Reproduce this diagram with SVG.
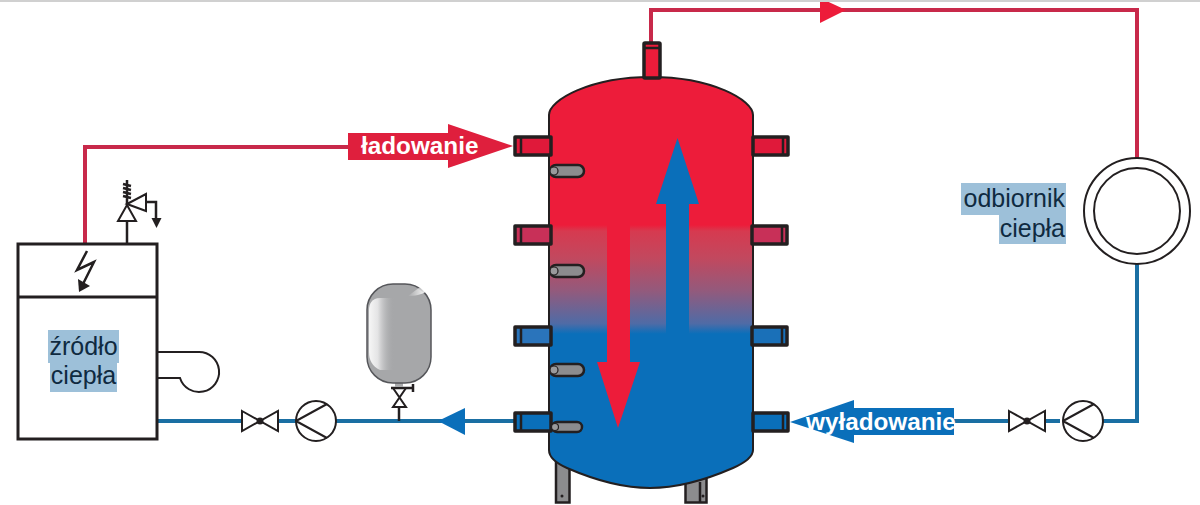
<svg xmlns="http://www.w3.org/2000/svg" width="1200" height="505" viewBox="0 0 1200 505">
<style>
.k{fill:none;stroke:#231f20;stroke-width:2}
.kt{fill:none;stroke:#231f20;stroke-width:2.5}
.kw{fill:#fff;stroke:#231f20;stroke-width:2}
.r{fill:none;stroke:#c8294a;stroke-width:4}
.b{fill:none;stroke:#1a6fa3;stroke-width:4}
.stub{stroke:#231f20;stroke-width:3.500;stroke-linejoin:round}
.sep{fill:none;stroke:#231f20;stroke-width:2.500}
.s{fill:#8c8c8e;stroke:#231f20;stroke-width:2.500}
.c{fill:#9a9a9c;stroke:#231f20;stroke-width:1.200}
.lab{font-family:"Liberation Sans",Arial,sans-serif;font-size:25px;fill:#0f2a40}
.w{font-family:"Liberation Sans",Arial,sans-serif;font-size:24.300px;font-weight:bold;fill:#fff}
.hl{fill:#9dc0d9}
</style>
<defs>
<linearGradient id="tank" gradientUnits="userSpaceOnUse" x1="0" y1="77" x2="0" y2="488">
<stop offset="0" stop-color="#ed1c3a"/><stop offset=".36" stop-color="#ed1c3a"/><stop offset=".375" stop-color="#d63a50"/><stop offset=".44" stop-color="#c2485e"/><stop offset=".52" stop-color="#935a7c"/><stop offset=".6" stop-color="#4f6ba6"/><stop offset=".625" stop-color="#0a6fba"/><stop offset="1" stop-color="#0a6fba"/>
</linearGradient>
<linearGradient id="shine" x1="0" y1="0" x2="1" y2="0">
<stop offset="0" stop-color="#f6f6f6"/><stop offset=".35" stop-color="#e4e4e5"/><stop offset="1" stop-color="#a8a9ab" stop-opacity="0"/>
</linearGradient>
<linearGradient id="hlite" x1="0" y1="0" x2="1" y2="0"><stop offset="0" stop-color="#fff" stop-opacity="0"/><stop offset="1" stop-color="#fff"/></linearGradient>
</defs>

<g id="connectors">
<path class="r" d="M85 244V147H360"/>
<path class="r" d="M651 44V10H1137V158"/>
<path class="b" d="M1137 264V421H1100"/>
<path class="b" d="M1060 421H950"/>
<path class="b" d="M158 421H520"/>
<path d="M820 -2L846 10L820 23Z" fill="#ed1c3a"/>
<path d="M438 421L465 408V435Z" fill="#0a6fba"/>
</g>

<g id="tank-node">
<path class="s" d="M556 455H569.500V502.500H556Z"/>
<circle cx="562" cy="496" r="1.500" fill="#231f20"/>
<path class="s" d="M685.500 478H706.500V502.500H685.500Z"/>
<path class="sep" d="M700 482V502"/>
<circle cx="703" cy="496" r="1.500" fill="#231f20"/>
<path d="M549 115C549 100 590 77 651 77C712 77 753 100 753 115V450C753 458 742 464 733 468C710 478 680 488 650 488C620 488 590 478 567 468C558 464 549 458 549 450Z" fill="url(#tank)" stroke="#231f20" stroke-width="2"/>
<g id="top-nozzle"><rect x="644" y="43" width="16" height="35" rx="1" fill="#ed1c3a" class="stub"/><path class="sep" d="M644 48H660"/></g>
<path d="M607 225H630V362H640L618 428L597 362H607Z" fill="#ed1c3a"/>
<path d="M666 335V204H656L677.500 138L699 204H689V335Z" fill="#0a6fba"/>
</g>

<g id="nozzles-left">
<g id="nl1"><rect x="515" y="137" width="36" height="18" fill="#e0193a" class="stub"/><path class="sep" d="M521 137V155"/></g>
<g id="nl2"><rect x="515" y="226" width="36" height="18" fill="#c83058" class="stub"/><path class="sep" d="M521 226V244"/></g>
<g id="nl3"><rect x="515" y="327" width="36" height="18" fill="#2a74bb" class="stub"/><path class="sep" d="M521 327V345"/></g>
<g id="nl4"><rect x="515" y="413" width="36" height="18" fill="#0a6fba" class="stub"/><path class="sep" d="M521 413V431"/></g>
</g>
<g id="nozzles-right">
<g id="nr1"><rect x="753" y="137" width="35" height="18" fill="#e0193a" class="stub"/><path class="sep" d="M783 137V155"/></g>
<g id="nr2"><rect x="752" y="226" width="35" height="18" fill="#c83058" class="stub"/><path class="sep" d="M782 226V244"/></g>
<g id="nr3"><rect x="752" y="327" width="35" height="18" fill="#1a70b8" class="stub"/><path class="sep" d="M782 327V345"/></g>
<g id="nr4"><rect x="753" y="413" width="35" height="18" fill="#0a6fba" class="stub"/><path class="sep" d="M783 413V431"/></g>
</g>
<g id="sensors">
<g id="s1"><rect class="s" x="550" y="165" width="34" height="12" rx="6"/><circle class="c" cx="554" cy="171" r="4"/></g>
<g id="s2"><rect class="s" x="550" y="265" width="34" height="12" rx="6"/><circle class="c" cx="554" cy="271" r="4"/></g>
<g id="s3"><rect class="s" x="550" y="364" width="34" height="12" rx="6"/><circle class="c" cx="554" cy="370" r="4"/></g>
<g id="s4"><rect class="s" x="552" y="422" width="30" height="10" rx="5"/><circle class="c" cx="555" cy="427" r="3.500"/></g>
</g>

<g id="ladowanie">
<path d="M348 133H448V124L513 146L448 168V160H348Z" fill="#df1f3d"/>
<text class="w" x="361" y="154">ładowanie</text>
</g>
<g id="wyladowanie">
<path d="M790 422L854 400V408H954V435H854V443Z" fill="#0a6fba"/>
<text class="w" x="806" y="430">wyładowanie</text>
</g>

<g id="source">
<rect x="18" y="244" width="139" height="195" fill="#fff" stroke="#231f20" stroke-width="3"/>
<path d="M18 297H157" stroke="#231f20" stroke-width="3"/>
<path class="k" d="M157 352H199A20 20 0 1 1 180 378H157"/>
<path class="kt" d="M87 251L77 270L94 262L83 284"/>
<path d="M79 292L78 279L90 286Z" fill="#231f20"/>
<rect class="hl" x="48" y="330" width="71" height="33"/>
<rect class="hl" x="50" y="363" width="67" height="29"/>
<text class="lab" x="83.500" y="355" text-anchor="middle">źródło</text>
<text class="lab" x="83.500" y="384" text-anchor="middle">ciepła</text>
</g>

<g id="safety-valve">
<path class="kt" d="M127 244V221"/>
<path class="kw" d="M118 221L127 205L136 221Z"/>
<path class="kw" d="M127 204L146 194V211Z"/>
<path class="kt" d="M127 204V180M123 184L131 186M123 188L131 190M123 192L131 194M123 196L131 198"/>
<path class="kt" d="M146 202H156V220"/>
<path d="M151.500 218H161.500L156.500 228Z" fill="#231f20"/>
</g>

<g id="valve-left">
<path class="kw" d="M242 411L278 431V411L242 431Z"/>
<circle cx="260" cy="421" r="3.500" fill="#231f20"/>
</g>
<g id="pump-left">
<circle class="kw" cx="316" cy="421" r="20"/>
<path class="k" d="M296 421L327 404M296 421L327 438"/>
</g>
<g id="expansion-vessel">
<path class="kt" d="M399 421V407"/>
<path class="kw" d="M393 388H406L393 407H406Z"/>
<path class="kt" d="M391 388H414M413 384V392"/>
<rect x="395" y="381" width="8" height="6" fill="#a9aaac"/>
<rect x="367" y="284" width="64" height="99" rx="26" fill="#a6a7a9" stroke="#55565a" stroke-width="1.500"/>
<path d="M369 310C369 304 372 298 380 298H394V370H380C372 366 369 360 369 352Z" fill="url(#shine)"/>
<path d="M408 296C414 296 422 295 427 291C425 289 422 288 420 287Z" fill="url(#hlite)"/>
</g>

<g id="valve-right">
<path class="kw" d="M1009 411L1045 431V411L1009 431Z"/>
<circle cx="1027" cy="421" r="3.500" fill="#231f20"/>
</g>
<g id="pump-right">
<circle class="kw" cx="1083" cy="421" r="20"/>
<path class="k" d="M1063 421L1094 404M1063 421L1094 438"/>
</g>
<g id="consumer">
<circle class="kw" cx="1137" cy="211" r="53"/>
<circle class="kw" cx="1137" cy="211" r="43"/>
<path class="hl" d="M961 183H1066V244H999V215H961Z"/>
<text class="lab" x="1065" y="207" text-anchor="end">odbiornik</text>
<text class="lab" x="1065" y="237" text-anchor="end">ciepła</text>
</g>
<rect id="top-edge" x="0" y="0" width="1200" height="2" fill="#d0d0d0"/>
</svg>
